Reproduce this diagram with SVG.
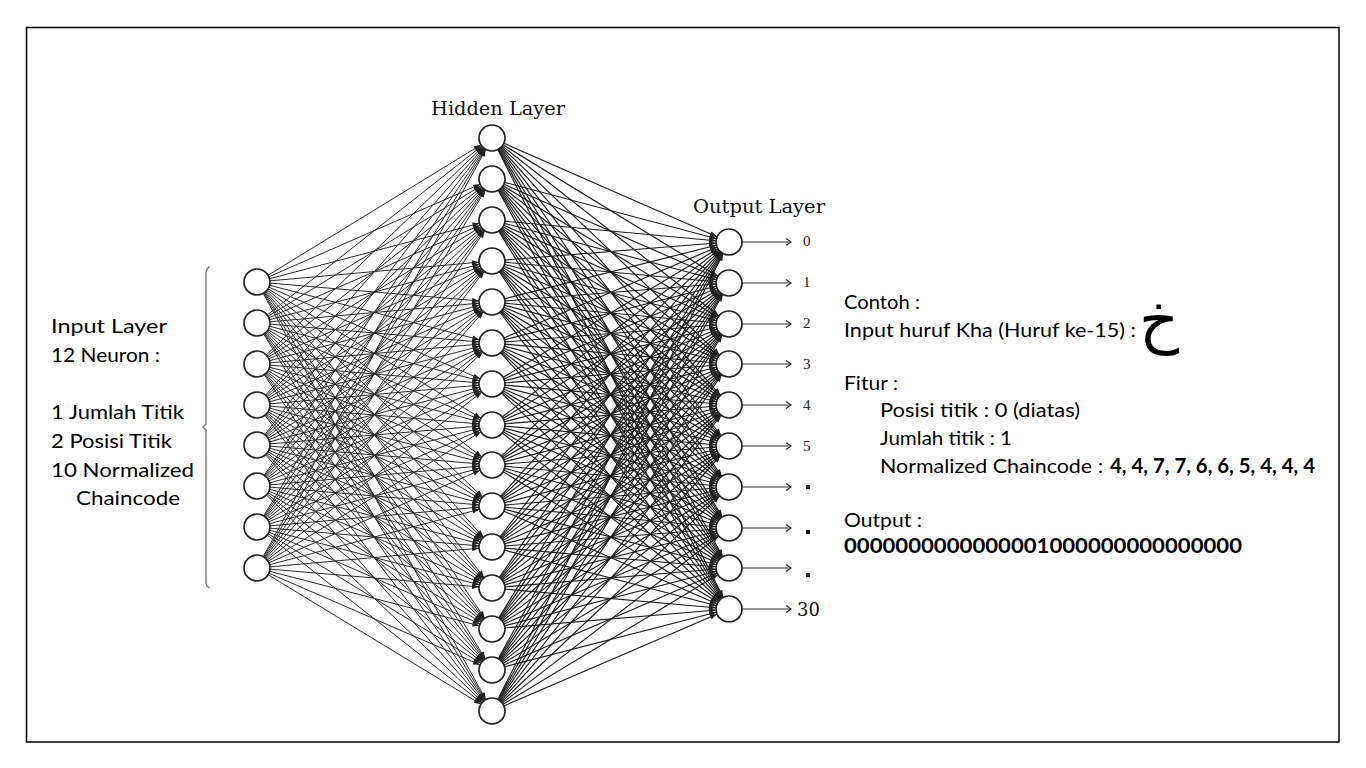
<svg xmlns="http://www.w3.org/2000/svg" width="1366" height="768" viewBox="0 0 1366 768">
<style>
.w{stroke:#2a2a2a;stroke-width:1;fill:none;marker-end:url(#ah)}
#hidden-output .w{stroke:#1c1c1c;stroke-width:1.15}
.o{stroke:#333;stroke-width:1.2;fill:none;marker-end:url(#oa)}
.n{fill:#fff;stroke:#222;stroke-width:1.7}
.t{font-family:Lato,"Noto Sans",sans-serif;font-size:20px;fill:#000}
.s{font-family:"DejaVu Serif","Liberation Serif",serif;fill:#111}
.d{font-family:"Liberation Serif",serif;font-size:15px;fill:#222}
</style>
<defs>
<marker id="ah" markerUnits="userSpaceOnUse" orient="auto" refX="20" refY="0" markerWidth="30" markerHeight="10" overflow="visible"><path d="M0,-2.6L7,0L0,2.6z" fill="#222"/></marker>
<marker id="oa" markerUnits="userSpaceOnUse" orient="auto" refX="0" refY="0" markerWidth="10" markerHeight="10" overflow="visible"><path d="M-5,-3.5L0,0L-5,3.5" fill="none" stroke="#333" stroke-width="1.2"/></marker>
</defs>
<rect x="0" y="0" width="1366" height="768" fill="#fff"/>
<rect x="26.5" y="27.5" width="1312.5" height="714.5" fill="none" stroke="#000" stroke-width="1.5"/>
<g id="connectors">
<g id="input-hidden">
<path class="w" d="M257 282L492 138"/><path class="w" d="M257 282L492 179"/><path class="w" d="M257 282L492 220"/><path class="w" d="M257 282L492 261"/><path class="w" d="M257 282L492 302"/><path class="w" d="M257 282L492 343"/><path class="w" d="M257 282L492 384"/><path class="w" d="M257 282L492 425"/><path class="w" d="M257 282L492 465"/><path class="w" d="M257 282L492 506"/><path class="w" d="M257 282L492 547"/><path class="w" d="M257 282L492 588"/><path class="w" d="M257 282L492 629"/><path class="w" d="M257 282L492 670"/><path class="w" d="M257 282L492 711"/>
<path class="w" d="M257 323L492 138"/><path class="w" d="M257 323L492 179"/><path class="w" d="M257 323L492 220"/><path class="w" d="M257 323L492 261"/><path class="w" d="M257 323L492 302"/><path class="w" d="M257 323L492 343"/><path class="w" d="M257 323L492 384"/><path class="w" d="M257 323L492 425"/><path class="w" d="M257 323L492 465"/><path class="w" d="M257 323L492 506"/><path class="w" d="M257 323L492 547"/><path class="w" d="M257 323L492 588"/><path class="w" d="M257 323L492 629"/><path class="w" d="M257 323L492 670"/><path class="w" d="M257 323L492 711"/>
<path class="w" d="M257 364L492 138"/><path class="w" d="M257 364L492 179"/><path class="w" d="M257 364L492 220"/><path class="w" d="M257 364L492 261"/><path class="w" d="M257 364L492 302"/><path class="w" d="M257 364L492 343"/><path class="w" d="M257 364L492 384"/><path class="w" d="M257 364L492 425"/><path class="w" d="M257 364L492 465"/><path class="w" d="M257 364L492 506"/><path class="w" d="M257 364L492 547"/><path class="w" d="M257 364L492 588"/><path class="w" d="M257 364L492 629"/><path class="w" d="M257 364L492 670"/><path class="w" d="M257 364L492 711"/>
<path class="w" d="M257 405L492 138"/><path class="w" d="M257 405L492 179"/><path class="w" d="M257 405L492 220"/><path class="w" d="M257 405L492 261"/><path class="w" d="M257 405L492 302"/><path class="w" d="M257 405L492 343"/><path class="w" d="M257 405L492 384"/><path class="w" d="M257 405L492 425"/><path class="w" d="M257 405L492 465"/><path class="w" d="M257 405L492 506"/><path class="w" d="M257 405L492 547"/><path class="w" d="M257 405L492 588"/><path class="w" d="M257 405L492 629"/><path class="w" d="M257 405L492 670"/><path class="w" d="M257 405L492 711"/>
<path class="w" d="M257 445L492 138"/><path class="w" d="M257 445L492 179"/><path class="w" d="M257 445L492 220"/><path class="w" d="M257 445L492 261"/><path class="w" d="M257 445L492 302"/><path class="w" d="M257 445L492 343"/><path class="w" d="M257 445L492 384"/><path class="w" d="M257 445L492 425"/><path class="w" d="M257 445L492 465"/><path class="w" d="M257 445L492 506"/><path class="w" d="M257 445L492 547"/><path class="w" d="M257 445L492 588"/><path class="w" d="M257 445L492 629"/><path class="w" d="M257 445L492 670"/><path class="w" d="M257 445L492 711"/>
<path class="w" d="M257 486L492 138"/><path class="w" d="M257 486L492 179"/><path class="w" d="M257 486L492 220"/><path class="w" d="M257 486L492 261"/><path class="w" d="M257 486L492 302"/><path class="w" d="M257 486L492 343"/><path class="w" d="M257 486L492 384"/><path class="w" d="M257 486L492 425"/><path class="w" d="M257 486L492 465"/><path class="w" d="M257 486L492 506"/><path class="w" d="M257 486L492 547"/><path class="w" d="M257 486L492 588"/><path class="w" d="M257 486L492 629"/><path class="w" d="M257 486L492 670"/><path class="w" d="M257 486L492 711"/>
<path class="w" d="M257 527L492 138"/><path class="w" d="M257 527L492 179"/><path class="w" d="M257 527L492 220"/><path class="w" d="M257 527L492 261"/><path class="w" d="M257 527L492 302"/><path class="w" d="M257 527L492 343"/><path class="w" d="M257 527L492 384"/><path class="w" d="M257 527L492 425"/><path class="w" d="M257 527L492 465"/><path class="w" d="M257 527L492 506"/><path class="w" d="M257 527L492 547"/><path class="w" d="M257 527L492 588"/><path class="w" d="M257 527L492 629"/><path class="w" d="M257 527L492 670"/><path class="w" d="M257 527L492 711"/>
<path class="w" d="M257 568L492 138"/><path class="w" d="M257 568L492 179"/><path class="w" d="M257 568L492 220"/><path class="w" d="M257 568L492 261"/><path class="w" d="M257 568L492 302"/><path class="w" d="M257 568L492 343"/><path class="w" d="M257 568L492 384"/><path class="w" d="M257 568L492 425"/><path class="w" d="M257 568L492 465"/><path class="w" d="M257 568L492 506"/><path class="w" d="M257 568L492 547"/><path class="w" d="M257 568L492 588"/><path class="w" d="M257 568L492 629"/><path class="w" d="M257 568L492 670"/><path class="w" d="M257 568L492 711"/>
</g>
<g id="hidden-output">
<path class="w" d="M492 138L729 242"/><path class="w" d="M492 138L729 283"/><path class="w" d="M492 138L729 324"/><path class="w" d="M492 138L729 364"/><path class="w" d="M492 138L729 405"/><path class="w" d="M492 138L729 446"/><path class="w" d="M492 138L729 487"/><path class="w" d="M492 138L729 528"/><path class="w" d="M492 138L729 568"/><path class="w" d="M492 138L729 609"/>
<path class="w" d="M492 179L729 242"/><path class="w" d="M492 179L729 283"/><path class="w" d="M492 179L729 324"/><path class="w" d="M492 179L729 364"/><path class="w" d="M492 179L729 405"/><path class="w" d="M492 179L729 446"/><path class="w" d="M492 179L729 487"/><path class="w" d="M492 179L729 528"/><path class="w" d="M492 179L729 568"/><path class="w" d="M492 179L729 609"/>
<path class="w" d="M492 220L729 242"/><path class="w" d="M492 220L729 283"/><path class="w" d="M492 220L729 324"/><path class="w" d="M492 220L729 364"/><path class="w" d="M492 220L729 405"/><path class="w" d="M492 220L729 446"/><path class="w" d="M492 220L729 487"/><path class="w" d="M492 220L729 528"/><path class="w" d="M492 220L729 568"/><path class="w" d="M492 220L729 609"/>
<path class="w" d="M492 261L729 242"/><path class="w" d="M492 261L729 283"/><path class="w" d="M492 261L729 324"/><path class="w" d="M492 261L729 364"/><path class="w" d="M492 261L729 405"/><path class="w" d="M492 261L729 446"/><path class="w" d="M492 261L729 487"/><path class="w" d="M492 261L729 528"/><path class="w" d="M492 261L729 568"/><path class="w" d="M492 261L729 609"/>
<path class="w" d="M492 302L729 242"/><path class="w" d="M492 302L729 283"/><path class="w" d="M492 302L729 324"/><path class="w" d="M492 302L729 364"/><path class="w" d="M492 302L729 405"/><path class="w" d="M492 302L729 446"/><path class="w" d="M492 302L729 487"/><path class="w" d="M492 302L729 528"/><path class="w" d="M492 302L729 568"/><path class="w" d="M492 302L729 609"/>
<path class="w" d="M492 343L729 242"/><path class="w" d="M492 343L729 283"/><path class="w" d="M492 343L729 324"/><path class="w" d="M492 343L729 364"/><path class="w" d="M492 343L729 405"/><path class="w" d="M492 343L729 446"/><path class="w" d="M492 343L729 487"/><path class="w" d="M492 343L729 528"/><path class="w" d="M492 343L729 568"/><path class="w" d="M492 343L729 609"/>
<path class="w" d="M492 384L729 242"/><path class="w" d="M492 384L729 283"/><path class="w" d="M492 384L729 324"/><path class="w" d="M492 384L729 364"/><path class="w" d="M492 384L729 405"/><path class="w" d="M492 384L729 446"/><path class="w" d="M492 384L729 487"/><path class="w" d="M492 384L729 528"/><path class="w" d="M492 384L729 568"/><path class="w" d="M492 384L729 609"/>
<path class="w" d="M492 425L729 242"/><path class="w" d="M492 425L729 283"/><path class="w" d="M492 425L729 324"/><path class="w" d="M492 425L729 364"/><path class="w" d="M492 425L729 405"/><path class="w" d="M492 425L729 446"/><path class="w" d="M492 425L729 487"/><path class="w" d="M492 425L729 528"/><path class="w" d="M492 425L729 568"/><path class="w" d="M492 425L729 609"/>
<path class="w" d="M492 465L729 242"/><path class="w" d="M492 465L729 283"/><path class="w" d="M492 465L729 324"/><path class="w" d="M492 465L729 364"/><path class="w" d="M492 465L729 405"/><path class="w" d="M492 465L729 446"/><path class="w" d="M492 465L729 487"/><path class="w" d="M492 465L729 528"/><path class="w" d="M492 465L729 568"/><path class="w" d="M492 465L729 609"/>
<path class="w" d="M492 506L729 242"/><path class="w" d="M492 506L729 283"/><path class="w" d="M492 506L729 324"/><path class="w" d="M492 506L729 364"/><path class="w" d="M492 506L729 405"/><path class="w" d="M492 506L729 446"/><path class="w" d="M492 506L729 487"/><path class="w" d="M492 506L729 528"/><path class="w" d="M492 506L729 568"/><path class="w" d="M492 506L729 609"/>
<path class="w" d="M492 547L729 242"/><path class="w" d="M492 547L729 283"/><path class="w" d="M492 547L729 324"/><path class="w" d="M492 547L729 364"/><path class="w" d="M492 547L729 405"/><path class="w" d="M492 547L729 446"/><path class="w" d="M492 547L729 487"/><path class="w" d="M492 547L729 528"/><path class="w" d="M492 547L729 568"/><path class="w" d="M492 547L729 609"/>
<path class="w" d="M492 588L729 242"/><path class="w" d="M492 588L729 283"/><path class="w" d="M492 588L729 324"/><path class="w" d="M492 588L729 364"/><path class="w" d="M492 588L729 405"/><path class="w" d="M492 588L729 446"/><path class="w" d="M492 588L729 487"/><path class="w" d="M492 588L729 528"/><path class="w" d="M492 588L729 568"/><path class="w" d="M492 588L729 609"/>
<path class="w" d="M492 629L729 242"/><path class="w" d="M492 629L729 283"/><path class="w" d="M492 629L729 324"/><path class="w" d="M492 629L729 364"/><path class="w" d="M492 629L729 405"/><path class="w" d="M492 629L729 446"/><path class="w" d="M492 629L729 487"/><path class="w" d="M492 629L729 528"/><path class="w" d="M492 629L729 568"/><path class="w" d="M492 629L729 609"/>
<path class="w" d="M492 670L729 242"/><path class="w" d="M492 670L729 283"/><path class="w" d="M492 670L729 324"/><path class="w" d="M492 670L729 364"/><path class="w" d="M492 670L729 405"/><path class="w" d="M492 670L729 446"/><path class="w" d="M492 670L729 487"/><path class="w" d="M492 670L729 528"/><path class="w" d="M492 670L729 568"/><path class="w" d="M492 670L729 609"/>
<path class="w" d="M492 711L729 242"/><path class="w" d="M492 711L729 283"/><path class="w" d="M492 711L729 324"/><path class="w" d="M492 711L729 364"/><path class="w" d="M492 711L729 405"/><path class="w" d="M492 711L729 446"/><path class="w" d="M492 711L729 487"/><path class="w" d="M492 711L729 528"/><path class="w" d="M492 711L729 568"/><path class="w" d="M492 711L729 609"/>
</g>
<g id="output-arrows">
<path class="o" d="M742 242H791"/><path class="o" d="M742 283H791"/><path class="o" d="M742 324H791"/><path class="o" d="M742 364H791"/><path class="o" d="M742 405H791"/><path class="o" d="M742 446H791"/><path class="o" d="M742 487H791"/><path class="o" d="M742 528H791"/><path class="o" d="M742 568H791"/><path class="o" d="M742 609H791"/>
</g>
</g>
<g id="input-layer">
<circle class="n" cx="257" cy="282" r="13"/><circle class="n" cx="257" cy="323" r="13"/><circle class="n" cx="257" cy="364" r="13"/><circle class="n" cx="257" cy="405" r="13"/><circle class="n" cx="257" cy="445" r="13"/><circle class="n" cx="257" cy="486" r="13"/><circle class="n" cx="257" cy="527" r="13"/><circle class="n" cx="257" cy="568" r="13"/>
</g>
<g id="hidden-layer">
<circle class="n" cx="492" cy="138" r="13"/><circle class="n" cx="492" cy="179" r="13"/><circle class="n" cx="492" cy="220" r="13"/><circle class="n" cx="492" cy="261" r="13"/><circle class="n" cx="492" cy="302" r="13"/><circle class="n" cx="492" cy="343" r="13"/><circle class="n" cx="492" cy="384" r="13"/><circle class="n" cx="492" cy="425" r="13"/><circle class="n" cx="492" cy="465" r="13"/><circle class="n" cx="492" cy="506" r="13"/><circle class="n" cx="492" cy="547" r="13"/><circle class="n" cx="492" cy="588" r="13"/><circle class="n" cx="492" cy="629" r="13"/><circle class="n" cx="492" cy="670" r="13"/><circle class="n" cx="492" cy="711" r="13"/>
<text class="s" x="431" y="115" font-size="18.5" textLength="134" lengthAdjust="spacingAndGlyphs">Hidden Layer</text>
</g>
<g id="output-layer">
<circle class="n" cx="729" cy="242" r="13"/><circle class="n" cx="729" cy="283" r="13"/><circle class="n" cx="729" cy="324" r="13"/><circle class="n" cx="729" cy="364" r="13"/><circle class="n" cx="729" cy="405" r="13"/><circle class="n" cx="729" cy="446" r="13"/><circle class="n" cx="729" cy="487" r="13"/><circle class="n" cx="729" cy="528" r="13"/><circle class="n" cx="729" cy="568" r="13"/><circle class="n" cx="729" cy="609" r="13"/>
<text class="s" x="693" y="213" font-size="18.5" textLength="132" lengthAdjust="spacingAndGlyphs">Output Layer</text>
<text class="d" x="803" y="246">0</text>
<text class="d" x="803" y="287">1</text>
<text class="d" x="803" y="328">2</text>
<text class="d" x="803" y="369">3</text>
<text class="d" x="803" y="410">4</text>
<text class="d" x="803" y="451">5</text>
<rect x="806" y="485" width="4" height="4" fill="#111"/>
<rect x="806" y="530" width="4" height="4" fill="#111"/>
<rect x="806" y="573" width="4" height="4" fill="#111"/>
<text class="s" x="797" y="616" font-size="18">30</text>
</g>
<g id="input-label">
<path d="M209.5 267C207 268 206 270 206 274V424L203 427L206 430V581C206 585 207 587 209.5 588" fill="none" stroke="#777" stroke-width="1.4"/>
<text class="t" x="51" y="333" textLength="116" lengthAdjust="spacingAndGlyphs">Input Layer</text>
<text class="t" x="51" y="362" textLength="109" lengthAdjust="spacingAndGlyphs">12 Neuron :</text>
<text class="t" x="51" y="419" textLength="133" lengthAdjust="spacingAndGlyphs">1 Jumlah Titik</text>
<text class="t" x="51" y="448" textLength="121" lengthAdjust="spacingAndGlyphs">2 Posisi Titik</text>
<text class="t" x="51" y="477" textLength="143" lengthAdjust="spacingAndGlyphs">10 Normalized</text>
<text class="t" x="76" y="505" textLength="104" lengthAdjust="spacingAndGlyphs">Chaincode</text>
</g>
<g id="example">
<text class="t" x="844" y="309" textLength="76" lengthAdjust="spacingAndGlyphs">Contoh :</text>
<text class="t" x="844" y="337" textLength="292" lengthAdjust="spacingAndGlyphs">Input huruf Kha (Huruf ke-15) :</text>
<text x="1139" y="341" font-family="'DejaVu Sans','Noto Sans',sans-serif" font-size="62" fill="#000">خ</text>
<text class="t" x="844" y="390" textLength="54" lengthAdjust="spacingAndGlyphs">Fitur :</text>
<text class="t" x="880" y="417" textLength="200" lengthAdjust="spacingAndGlyphs">Posisi titik : 0 (diatas)</text>
<text class="t" x="880" y="445" textLength="132" lengthAdjust="spacingAndGlyphs">Jumlah titik : 1</text>
<text class="t" x="880" y="473" textLength="223" lengthAdjust="spacingAndGlyphs">Normalized Chaincode :</text>
<text class="t" x="1110" y="473" font-size="16" font-weight="bold" textLength="205" lengthAdjust="spacingAndGlyphs">4, 4, 7, 7, 6, 6, 5, 4, 4, 4</text>
<text class="t" x="844" y="527" textLength="78" lengthAdjust="spacingAndGlyphs">Output :</text>
<text class="t" x="844" y="553" font-size="16" font-weight="bold" textLength="398" lengthAdjust="spacingAndGlyphs">0000000000000001000000000000000</text>
</g>
</svg>
